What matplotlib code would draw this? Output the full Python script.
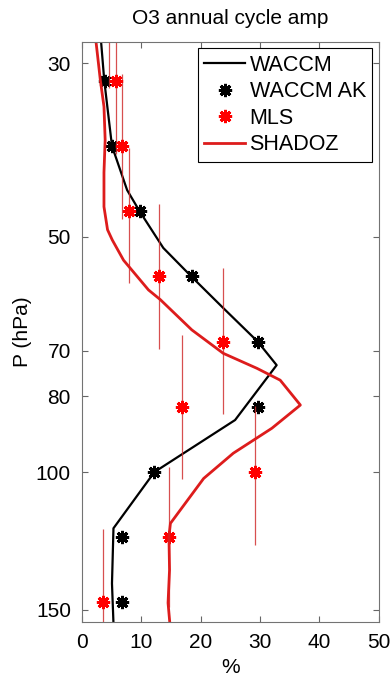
import numpy as np
import matplotlib
matplotlib.use('Agg')
import matplotlib.pyplot as plt

plt.rcParams['font.family'] = ['Liberation Sans', 'DejaVu Sans']

# ── data ─────────────────────────────────────────
# WACCM (black line)
waccm_p = [27.5, 31.6, 38.3, 43.6, 46.4, 51.7, 56.3, 61.7, 68.1, 73.0, 85.8, 100.0, 118.0, 138.8, 156.0]
waccm_x = [3.1, 3.75, 5.05, 7.6, 9.7, 13.7, 18.5, 23.8, 29.6, 32.8, 25.8, 12.2, 5.3, 5.05, 5.3]

# WACCM AK (black asterisks)
ak_p = [31.6, 38.3, 46.4, 56.2, 68.1, 82.5, 100.0, 121.2, 146.8]
ak_x = [3.8, 5.0, 9.7, 18.5, 29.6, 29.6, 12.2, 6.7, 6.8]

# MLS (red asterisks + thin red bars)
mls_p = [26.1, 31.6, 38.3, 46.4, 56.2, 68.1, 82.5, 100.0, 121.2, 146.8]
mls_x = [4.6, 5.8, 6.7, 8.0, 12.9, 23.7, 16.8, 29.2, 14.7, 3.5]
mls_p_lo = [21.2, 25.6, 31.0, 38.5, 45.4, 54.9, 66.8, 82.3, 98.5, 118.3]
mls_p_hi = [32.3, 39.2, 47.5, 57.3, 69.6, 84.3, 102.1, 124.0, 148.7, 181.0]

# SHADOZ (red line)
shadoz_p = [27.5, 31.6, 34.1, 37.6, 41.4, 45.8, 49.0, 50.5, 53.6, 58.5, 60.2, 65.8, 70.5,
            73.7, 76.3, 82.1, 87.9, 94.6, 101.9, 116.3, 120.9, 133.4, 147.0, 156.0]
shadoz_x = [2.2, 3.1, 3.7, 3.9, 3.7, 3.7, 4.3, 5.1, 7.0, 11.2, 13.2, 18.5, 23.8,
            29.5, 33.4, 36.8, 32.0, 25.5, 20.5, 14.9, 14.65, 14.75, 14.5, 14.8]

yticks = [30, 50, 70, 80, 100, 150]
xticks = [0, 10, 20, 30, 40, 50]
# ─────────────────────────────────────────────────

FS = 15
ast = (8, 2, 0)  # MATLAB-like asterisk

fig = plt.figure(figsize=(3.9, 6.79), dpi=100)
ax = fig.add_axes([0.2103, 0.0839, 0.7607, 0.8542])

ax.plot(waccm_x, waccm_p, color='black', lw=1.6, label='WACCM')
ax.plot(ak_x, ak_p, ls='none', marker=ast, ms=9.5, mew=2.1, color='black', label='WACCM AK')
ax.vlines(mls_x, mls_p_lo, mls_p_hi, color='#d03030', lw=0.9, alpha=0.85)
ax.plot(mls_x, mls_p, ls='none', marker=ast, ms=9.5, mew=2.1, color='red', label='MLS')
ax.plot(shadoz_x, shadoz_p, color='#dd1c1c', lw=2.0, label='SHADOZ')

ax.set_yscale('log')
ax.set_ylim(155.5, 28.2)
ax.set_xlim(0, 50)
ax.set_yticks(yticks)
ax.set_yticklabels([str(t) for t in yticks])
ax.minorticks_off()
ax.set_xticks(xticks)

ax.tick_params(direction='in', length=4, width=0.8, color='0.4',
               top=True, right=True, labelsize=FS, pad=8)
for s in ax.spines.values():
    s.set_color('0.45')
    s.set_linewidth(0.8)

ax.set_title('O3 annual cycle amp', fontsize=FS, pad=13)
ax.set_xlabel('%', fontsize=FS, labelpad=4)
ax.set_ylabel('P (hPa)', fontsize=FS, labelpad=3)

leg = ax.legend(loc='upper right', fontsize=15.5, fancybox=False, framealpha=1,
                edgecolor='black', borderaxespad=0.3, handlelength=1.9,
                handletextpad=0.2, labelspacing=0.25, borderpad=0.3)
leg.get_frame().set_linewidth(0.8)

fig.savefig('out.png', dpi=100)
